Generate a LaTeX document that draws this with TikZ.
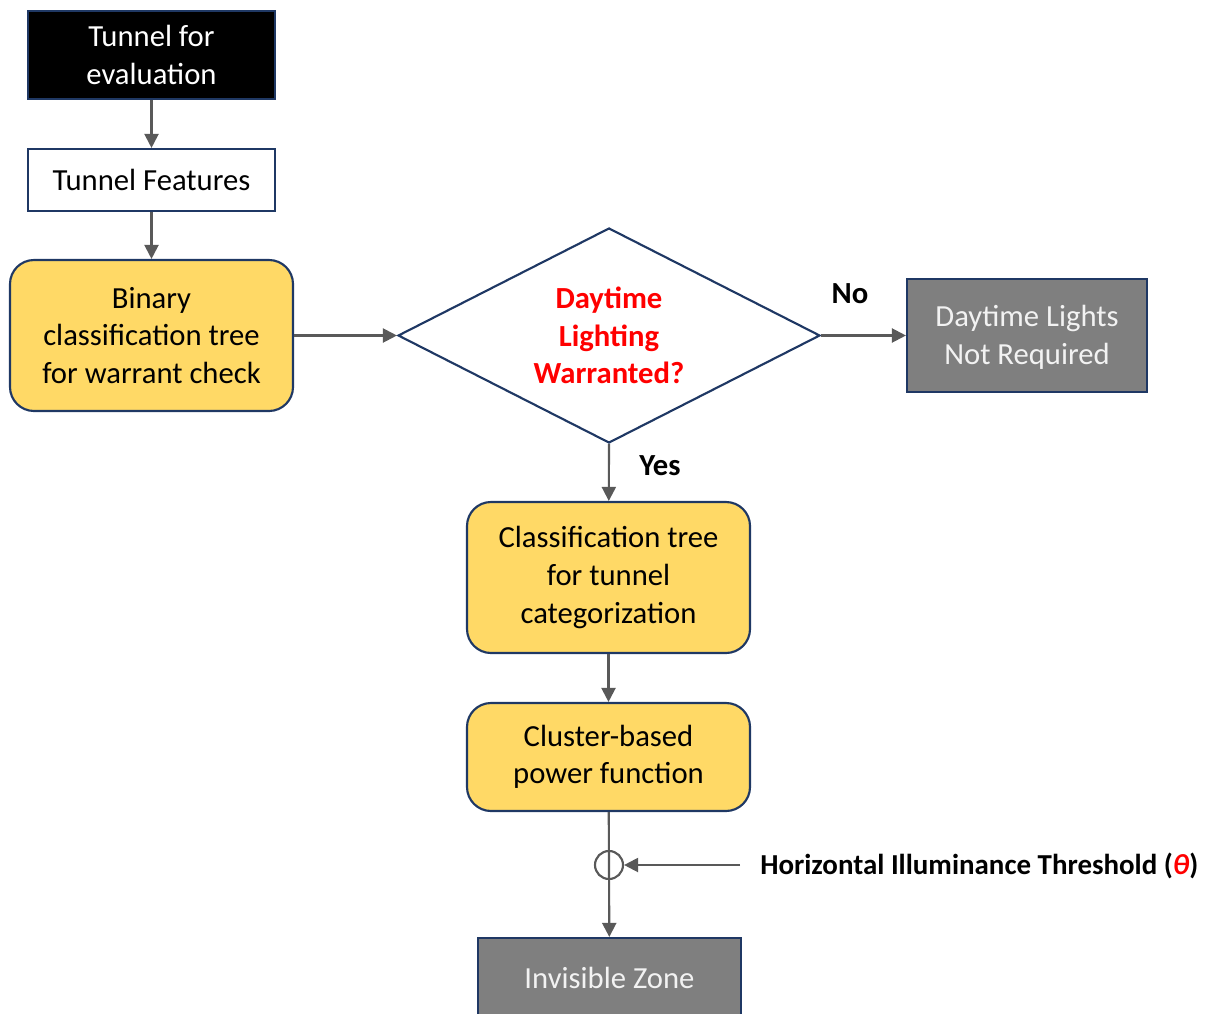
\documentclass[tikz,border=0pt]{standalone}
\usepackage{fontspec}
\setmainfont{Carlito}
\usetikzlibrary{shapes.geometric,arrows.meta}
\definecolor{navy}{HTML}{1F3864}
\definecolor{gold}{HTML}{FFD966}
\definecolor{slate}{HTML}{7F7F7F}
\definecolor{wire}{HTML}{595959}
\definecolor{alert}{HTML}{FF0000}
\newcommand{\upx}{0.75pt}
\begin{document}
\begin{tikzpicture}[x=0.75pt,y=-0.75pt,
  font=\fontsize{23}{28.2}\selectfont,
  box/.style={draw=navy, line width=1.6pt, align=center, inner sep=0pt},
  darkbox/.style={box, fill=black, text=white},
  plainbox/.style={box, fill=white, text=black},
  goldbox/.style={box, fill=gold, text=black, rounded corners=18pt},
  greybox/.style={box, fill=slate, text=white!95!black},
  decision/.style={diamond, aspect=1.963, draw=navy, line width=1.6pt, align=center, inner sep=0pt,
    text=alert, font=\fontsize{23}{28.2}\selectfont\bfseries},
  flow/.style={draw=wire, line width=1.6pt, -{Triangle[length=10.5pt,width=10.5pt]}},
  tag/.style={font=\fontsize{23}{28.2}\selectfont\bfseries, inner sep=0pt}]
\useasboundingbox (0,0) rectangle (1205,1013);

% process boxes
\node[darkbox, minimum width=247*\upx, minimum height=88*\upx] (eval) at (151.5,55) {Tunnel for\\evaluation};
\node[plainbox, minimum width=247*\upx, minimum height=62*\upx] (feat) at (151.5,180) {Tunnel Features};
\node[goldbox, minimum width=283*\upx, minimum height=151*\upx] (binary) at (151.5,335.5) {Binary\\classification tree\\for warrant check};
\node[decision, minimum width=422*\upx, minimum height=215*\upx] (warrant) at (609,335.5) {Daytime\\Lighting\\Warranted?};
\node[greybox, minimum width=240*\upx, minimum height=113*\upx] (nolights) at (1027,335.5) {\rule{0pt}{19pt}Daytime Lights\\Not Required};
\node[goldbox, minimum width=283*\upx, minimum height=151*\upx] (category) at (608.5,577.5) {Classification tree\\for tunnel\\categorization};
\node[goldbox, minimum width=283*\upx, minimum height=108*\upx] (power) at (608.5,757) {Cluster-based\\power function};
\node[greybox, minimum width=263*\upx, minimum height=80*\upx] (zone) at (609.5,978) {Invisible Zone};

% threshold junction and its input
\node[circle, draw=wire, line width=1.6pt, minimum size=28*\upx, inner sep=0pt] (junction) at (609,865) {};
\coordinate (thrsrc) at (740,865);
\node[tag, anchor=west, font=\fontsize{21.7}{26}\selectfont\bfseries] (thrlabel) at (760,866) {Horizontal Illuminance Threshold (\textcolor{alert}{\itshape θ})};

% connectors
\draw[flow] (eval) -- (feat);
\draw[flow] (feat) -- (binary);
\draw[flow] (binary) -- (warrant.west);
\draw[flow] (warrant.east) -- (nolights);
\draw[flow] (warrant.south) -- (category);
\draw[flow] (category) -- (power);
\draw[flow] (power) -- (zone);
\draw[flow] (thrsrc) -- (junction.east);

% branch labels
\node[tag] (nolabel) at (850,294) {No};
\node[tag] (yeslabel) at (660,466) {Yes};
\end{tikzpicture}
\end{document}
